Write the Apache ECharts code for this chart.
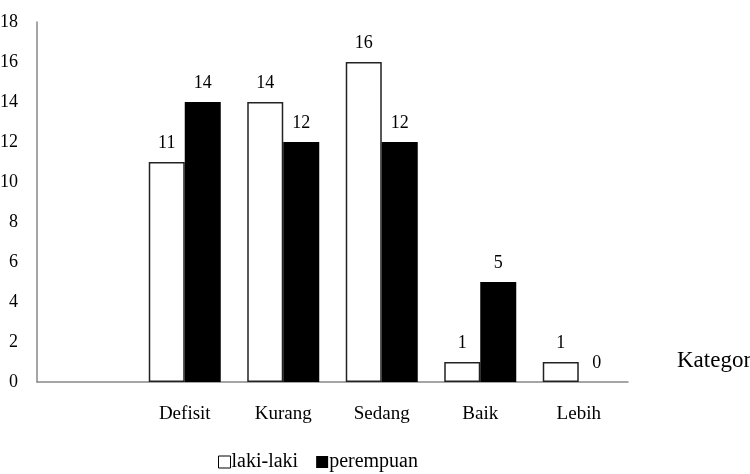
<!DOCTYPE html>
<html>
<head>
<meta charset="utf-8">
<script src="https://cdn.jsdelivr.net/npm/echarts@6/dist/echarts.min.js"></script>
<style>html,body{margin:0;padding:0;background:#fff;}#c{width:750px;height:474px;}</style>
</head>
<body>
<div id="c"></div>
<script>
var categories = ['', 'Defisit', 'Kurang', 'Sedang', 'Baik', 'Lebih'];
var lakiLaki = [null, 11, 14, 16, 1, 1];
var perempuan = [null, 14, 12, 12, 5, 0];
var yTicks = [0, 2, 4, 6, 8, 10, 12, 14, 16, 18];
var axisName = 'Kategori';

var FONT = '"Liberation Serif", "Times New Roman", serif';
var chart = echarts.init(document.getElementById('c'), null, {renderer: 'canvas'});
chart.setOption({
  animation: false,
  backgroundColor: '#fff',
  textStyle: {fontFamily: FONT, color: '#000'},
  grid: {left: 37, right: 122, top: 22, bottom: 92, containLabel: false, outerBoundsMode: 'none'},
  legend: {
    bottom: -3, left: 213,
    itemWidth: 12, itemHeight: 12, itemGap: 18,
    icon: 'rect',
    textStyle: {fontFamily: FONT, fontSize: 20, color: '#000', padding: [0, 0, 0, -4]},
    data: [
      {name: 'laki-laki', itemStyle: {color: '#fff', borderColor: '#000', borderWidth: 1}},
      {name: 'perempuan', itemStyle: {color: '#000'}}
    ]
  },
  graphic: [{
    type: 'text', left: 677, top: 349,
    style: {text: axisName, font: '23px "Liberation Serif", serif', fill: '#000'}
  }],
  xAxis: {
    type: 'category',
    data: categories,
    axisLine: {show: true, lineStyle: {color: '#888', width: 1.5}},
    axisTick: {show: false},
    axisLabel: {fontFamily: FONT, fontSize: 19, color: '#000', margin: 23, interval: 0}
  },
  yAxis: {
    type: 'value',
    min: 0, max: 18, interval: 2,
    splitLine: {show: false},
    axisTick: {show: false},
    axisLine: {show: true, lineStyle: {color: '#888', width: 1.5}},
    axisLabel: {fontFamily: FONT, fontSize: 18, color: '#000', margin: 19, padding: [3, 0, 0, 0],
      formatter: function (v) { return yTicks.indexOf(v) >= 0 ? String(v) : ''; }}
  },
  series: [
    {
      name: 'laki-laki', type: 'bar', data: lakiLaki,
      barWidth: 36, barGap: '0%',
      itemStyle: {color: '#fff', borderColor: '#222', borderWidth: 1.5},
      label: {show: true, position: 'top', distance: 10, fontFamily: FONT, fontSize: 18, color: '#000'}
    },
    {
      name: 'perempuan', type: 'bar', data: perempuan,
      barWidth: 36, barGap: '0%',
      itemStyle: {color: '#000'},
      label: {show: true, position: 'top', distance: 10, fontFamily: FONT, fontSize: 18, color: '#000'}
    }
  ]
});
</script>
</body>
</html>
